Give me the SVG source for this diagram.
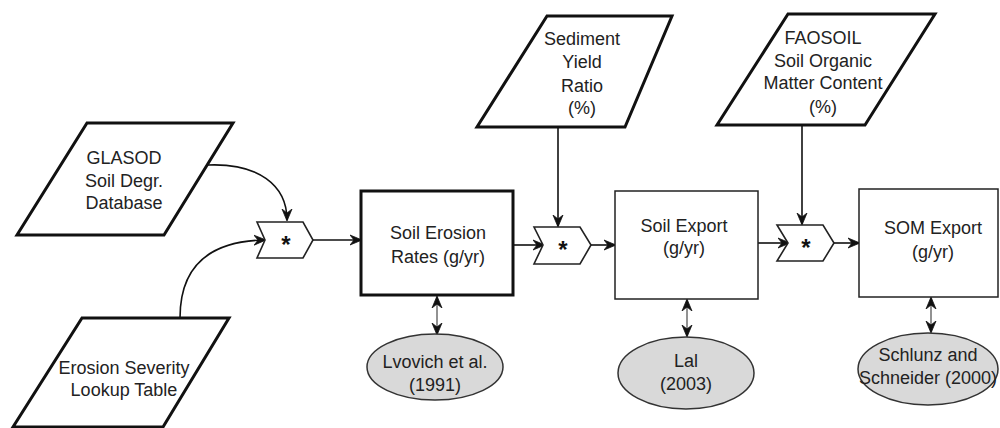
<svg xmlns="http://www.w3.org/2000/svg" width="1000" height="428" viewBox="0 0 1000 428">
<defs>
<marker id="ah" viewBox="0 0 12 12" refX="11" refY="6" markerWidth="12" markerHeight="12" markerUnits="userSpaceOnUse" orient="auto-start-reverse">
<path d="M0,1 L12,6 L0,11 L4,6 Z" fill="#111" stroke="#111" stroke-width="0.8" stroke-linejoin="miter"/>
</marker>
<style>
text{font-family:"Liberation Sans",Arial,sans-serif;font-size:18px;fill:#222;text-anchor:middle;dominant-baseline:central}
.para{fill:#fff;stroke:#111;stroke-width:3}
.thick{fill:#fff;stroke:#111;stroke-width:3}
.thin{fill:#fff;stroke:#222;stroke-width:1.5}
.comb{fill:#fff;stroke:#222;stroke-width:1.6}
.ell{fill:#d9d9d9;stroke:#333;stroke-width:1.5}
.star{font-size:24px;font-weight:bold;fill:#111}
.conn{fill:none;stroke:#111;stroke-width:1.6;marker-end:url(#ah)}
.both{fill:none;stroke:#777;stroke-width:1.6;marker-end:url(#ah);marker-start:url(#ah)}
</style>
</defs>
<g id="connectors">
<path class="conn" d="M208,165 C258,163 287,185 287,220"/>
<path class="conn" d="M180,318 C180,268 208,241 265,240"/>
<path class="conn" d="M313,240 L361,240"/>
<path class="conn" d="M513,245 L544,245"/>
<path class="conn" d="M558,127 L558,226"/>
<path class="conn" d="M591,245 L615,245"/>
<path class="conn" d="M758,243 L789,243"/>
<path class="conn" d="M802,125 L802,224"/>
<path class="conn" d="M834,243 L859,243"/>
<path class="both" d="M437,297 L437,334"/>
<path class="both" d="M687,300 L687,336"/>
<path class="both" d="M931,298 L931,332"/>
</g>
<g id="glasod">
<polygon class="para" points="87,123 233,123 164,235 17,235"/>
<text x="124" y="158">GLASOD</text>
<text x="124" y="181">Soil Degr.</text>
<text x="124" y="203">Database</text>
</g>
<g id="erosion-severity">
<polygon class="para" points="82,318 229,318 163,427 13,427"/>
<text x="124" y="368">Erosion Severity</text>
<text x="124" y="390">Lookup Table</text>
</g>
<g id="comb1">
<polygon class="comb" points="257,222 303,222 313,240 303,258 257,258 265,240"/>
<text class="star" x="286" y="244">*</text>
</g>
<g id="soil-erosion">
<rect class="thick" x="361" y="191" width="152" height="104"/>
<text x="438" y="233">Soil Erosion</text>
<text x="438" y="257">Rates (g/yr)</text>
</g>
<g id="lvovich">
<ellipse class="ell" cx="435" cy="367" rx="68" ry="33"/>
<text x="435" y="362">Lvovich et al.</text>
<text x="435" y="385">(1991)</text>
</g>
<g id="sediment">
<polygon class="para" points="547,16 672,16 625,127 477,127"/>
<text x="582" y="39">Sediment</text>
<text x="582" y="62">Yield</text>
<text x="582" y="86">Ratio</text>
<text x="582" y="108">(%)</text>
</g>
<g id="comb2">
<polygon class="comb" points="534,227 580,227 591,245 580,264 534,264 543,245"/>
<text class="star" x="563" y="249">*</text>
</g>
<g id="soil-export">
<rect class="thin" x="615" y="191" width="143" height="108"/>
<text x="684" y="226">Soil Export</text>
<text x="684" y="248">(g/yr)</text>
</g>
<g id="lal">
<ellipse class="ell" cx="686" cy="373" rx="68" ry="36"/>
<text x="686" y="361">Lal</text>
<text x="686" y="384">(2003)</text>
</g>
<g id="faosoil">
<polygon class="para" points="788,14 935,14 865,125 717,125"/>
<text x="823" y="38">FAOSOIL</text>
<text x="823" y="61">Soil Organic</text>
<text x="823" y="83">Matter Content</text>
<text x="823" y="107">(%)</text>
</g>
<g id="comb3">
<polygon class="comb" points="777,225 823,225 834,243 823,261 777,261 788,243"/>
<text class="star" x="806" y="247">*</text>
</g>
<g id="som-export">
<rect class="thin" x="859" y="189" width="139" height="108"/>
<text x="933" y="228">SOM Export</text>
<text x="933" y="252">(g/yr)</text>
</g>
<g id="schlunz">
<ellipse class="ell" cx="928" cy="369" rx="70" ry="36"/>
<text x="928" y="355">Schlunz and</text>
<text x="928" y="378">Schneider (2000)</text>
</g>
</svg>
